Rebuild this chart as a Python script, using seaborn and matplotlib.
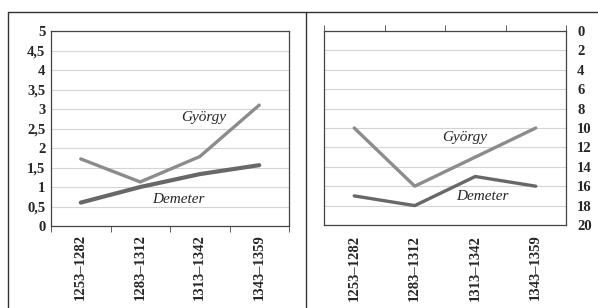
import matplotlib
matplotlib.use("Agg")
import matplotlib.pyplot as plt
from matplotlib.lines import Line2D
from matplotlib.ticker import FixedLocator
import numpy as np
import pandas as pd
import seaborn as sns

periods = ["1253–1282", "1283–1312", "1313–1342", "1343–1359"]
gyorgy_left = [1.72, 1.13, 1.78, 3.1]
demeter_left = [0.6, 1.0, 1.33, 1.56]
gyorgy_right = [10, 16, 13, 10]
demeter_right = [17, 18, 15, 16]

sns.set_style("white")
plt.rcParams["font.family"] = ["Liberation Serif", "DejaVu Serif"]

pos = np.arange(len(periods))
left_df = pd.DataFrame({"pos": np.tile(pos, 2),
                        "value": gyorgy_left + demeter_left,
                        "name": ["György"] * 4 + ["Demeter"] * 4})
right_df = pd.DataFrame({"pos": np.tile(pos, 2),
                         "value": gyorgy_right + demeter_right,
                         "name": ["György"] * 4 + ["Demeter"] * 4})
colors = {"György": "#8c8c8c", "Demeter": "#686868"}

fig = plt.figure(figsize=(5.98, 3.08), dpi=100)
ax1 = fig.add_axes([51 / 598, 1 - 226 / 308, 238 / 598, 195 / 308])
ax2 = fig.add_axes([324 / 598, 1 - 225 / 308, 242 / 598, 194 / 308])

grid_col = "#d4d4d4"
frame_col = "#444444"
tick_fs = 10.5

# left panel
sns.lineplot(data=left_df[left_df.name == "György"], x="pos", y="value", ax=ax1,
             color=colors["György"], linewidth=2.4, legend=False)
sns.lineplot(data=left_df[left_df.name == "Demeter"], x="pos", y="value", ax=ax1,
             color=colors["Demeter"], linewidth=3.0, legend=False)
ax1.set_xlim(-0.5, 3.5)
ax1.set_ylim(0, 5)
ax1.set_yticks(np.arange(0, 5.01, 0.5))
ax1.set_yticklabels([("%g" % v).replace(".", ",") for v in np.arange(0, 5.01, 0.5)],
                    fontsize=tick_fs, fontweight="bold")
ax1.set_xticks(pos)
ax1.set_xticklabels(periods, rotation=90, fontsize=tick_fs, fontweight="bold")
ax1.xaxis.set_minor_locator(FixedLocator([-0.5, 0.5, 1.5, 2.5, 3.5]))
ax1.tick_params(axis="x", which="major", length=0, pad=6)
ax1.tick_params(axis="x", which="minor", length=4, direction="out", color=frame_col, bottom=True)
ax1.tick_params(axis="y", length=0, pad=4)
ax1.grid(axis="y", color=grid_col, linewidth=0.8)
ax1.set_axisbelow(True)
ax1.text(2.07, 2.78, "György", style="italic", fontsize=11, ha="center", va="center")
ax1.text(1.64, 0.69, "Demeter", style="italic", fontsize=11, ha="center", va="center")

# right panel
sns.lineplot(data=right_df[right_df.name == "György"], x="pos", y="value", ax=ax2,
             color=colors["György"], linewidth=2.4, legend=False)
sns.lineplot(data=right_df[right_df.name == "Demeter"], x="pos", y="value", ax=ax2,
             color=colors["Demeter"], linewidth=2.4, legend=False)
ax2.set_xlim(-0.5, 3.5)
ax2.set_ylim(20, 0)
ax2.yaxis.tick_right()
ax2.set_yticks(np.arange(0, 21, 2))
ax2.set_yticklabels([str(v) for v in range(0, 21, 2)], fontsize=tick_fs, fontweight="bold")
ax2.set_xticks(pos)
ax2.set_xticklabels(periods, rotation=90, fontsize=tick_fs, fontweight="bold")
ax2.xaxis.set_minor_locator(FixedLocator([-0.5, 0.5, 1.5, 2.5, 3.5]))
ax2.tick_params(axis="x", which="major", length=0, pad=7)
ax2.tick_params(axis="x", which="minor", length=4, direction="out", color=frame_col,
                top=True, bottom=False)
ax2.tick_params(axis="y", length=0, pad=8)
ax2.grid(axis="y", color=grid_col, linewidth=0.8)
ax2.set_axisbelow(True)
ax2.text(1.83, 11.0, "György", style="italic", fontsize=11, ha="center", va="center")
ax2.text(2.11, 17.1, "Demeter", style="italic", fontsize=11, ha="center", va="center")

for ax in (ax1, ax2):
    ax.set_xlabel("")
    ax.set_ylabel("")
    for s in ax.spines.values():
        s.set_visible(True)
        s.set_color(frame_col)
        s.set_linewidth(0.9)

# table-like frame around the two panels
W, H = 598, 308
for (x0, y0, x1, y1) in [(8, 12, 598, 12), (8, 12, 8, 308), (306, 12, 306, 308)]:
    fig.add_artist(Line2D([x0 / W, x1 / W], [1 - y0 / H, 1 - y1 / H],
                          color="#333333", linewidth=1.0))

fig.savefig("out.png", dpi=100)
